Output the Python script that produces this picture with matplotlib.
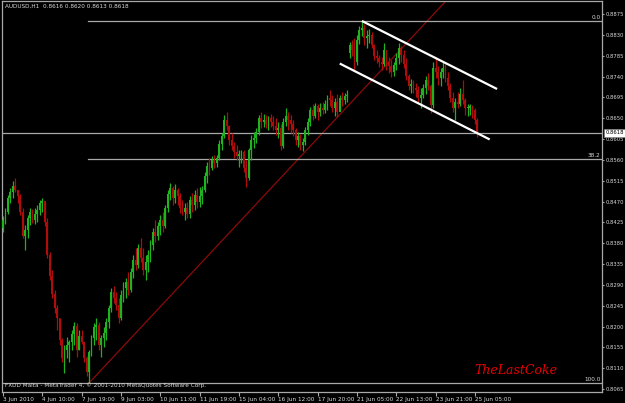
import matplotlib
matplotlib.use("Agg")
import matplotlib.pyplot as plt
import matplotlib.transforms as mtransforms
import numpy as np

# ---- data (prices in pips, 2-hour bars) ----
highs = [8438, 8456, 8484, 8499, 8514, 8520, 8495, 8486, 8456, 8419,
         8441, 8456, 8454, 8456, 8462, 8473, 8477, 8467, 8434, 8361,
         8322, 8279, 8246, 8218, 8175, 8160, 8177, 8171, 8192, 8210,
         8207, 8192, 8192, 8160, 8136, 8149, 8181, 8207, 8218, 8210,
         8181, 8199, 8218, 8246, 8283, 8287, 8274, 8261, 8279, 8296,
         8305, 8318, 8326, 8354, 8369, 8378, 8391, 8369, 8354, 8365,
         8387, 8412, 8430, 8425, 8441, 8447, 8462, 8495, 8510, 8503,
         8508, 8499, 8488, 8473, 8467, 8469, 8482, 8488, 8495, 8499,
         8501, 8503, 8533, 8555, 8564, 8568, 8570, 8570, 8603, 8618,
         8657, 8663, 8635, 8618, 8598, 8592, 8581, 8581, 8581, 8559,
         8585, 8613, 8620, 8629, 8657, 8663, 8659, 8657, 8654, 8659,
         8654, 8650, 8641, 8637, 8650, 8672, 8663, 8657, 8646, 8629,
         8620, 8616, 8607, 8631, 8650, 8674, 8680, 8682, 8680, 8682,
         8685, 8689, 8700, 8711, 8700, 8693, 8702, 8700, 8706, 8704,
         8711, 8814, 8819, 8823, 8829, 8849, 8860, 8853, 8840, 8842,
         8836, 8810, 8797, 8786, 8782, 8812, 8793, 8782, 8775, 8771,
         8790, 8812, 8806, 8797, 8780, 8745, 8734, 8732, 8726, 8719,
         8715, 8724, 8741, 8747, 8724, 8771, 8780, 8762, 8758, 8771,
         8767, 8749, 8726, 8706, 8693, 8706, 8715, 8732, 8693, 8680,
         8680, 8678, 8672, 8650]
lows = [8404, 8421, 8443, 8467, 8477, 8490, 8467, 8441, 8391, 8365,
        8391, 8419, 8423, 8421, 8425, 8441, 8447, 8417, 8348, 8300,
        8261, 8229, 8192, 8160, 8123, 8099, 8132, 8123, 8149, 8160,
        8134, 8149, 8162, 8123, 8093, 8078, 8136, 8160, 8171, 8149,
        8134, 8156, 8171, 8197, 8231, 8251, 8235, 8207, 8214, 8253,
        8261, 8268, 8274, 8305, 8322, 8326, 8339, 8311, 8300, 8318,
        8339, 8365, 8382, 8387, 8397, 8404, 8412, 8447, 8473, 8462,
        8467, 8462, 8445, 8441, 8430, 8434, 8434, 8447, 8451, 8456,
        8458, 8464, 8490, 8510, 8527, 8538, 8542, 8544, 8559, 8581,
        8607, 8624, 8592, 8581, 8564, 8559, 8544, 8553, 8533, 8501,
        8516, 8559, 8585, 8596, 8613, 8629, 8631, 8629, 8624, 8631,
        8624, 8613, 8607, 8581, 8585, 8633, 8624, 8618, 8611, 8592,
        8587, 8581, 8579, 8592, 8613, 8633, 8646, 8650, 8646, 8654,
        8659, 8661, 8667, 8676, 8663, 8654, 8652, 8667, 8676, 8680,
        8685, 8780, 8784, 8754, 8765, 8810, 8827, 8808, 8801, 8812,
        8801, 8775, 8769, 8760, 8754, 8762, 8754, 8747, 8739, 8741,
        8754, 8767, 8771, 8758, 8732, 8711, 8704, 8704, 8695, 8685,
        8672, 8693, 8702, 8711, 8661, 8672, 8736, 8721, 8719, 8736,
        8728, 8711, 8685, 8663, 8646, 8672, 8676, 8680, 8657, 8654,
        8657, 8650, 8637, 8609]
closes = [8430, 8447, 8477, 8490, 8503, 8495, 8482, 8447, 8395, 8408,
          8434, 8447, 8430, 8443, 8451, 8467, 8471, 8425, 8354, 8309,
          8270, 8240, 8218, 8171, 8132, 8149, 8160, 8166, 8184, 8201,
          8149, 8179, 8166, 8132, 8101, 8145, 8175, 8199, 8203, 8160,
          8175, 8186, 8210, 8240, 8274, 8261, 8246, 8218, 8268, 8283,
          8296, 8279, 8318, 8343, 8333, 8369, 8348, 8322, 8339, 8354,
          8376, 8404, 8395, 8417, 8430, 8417, 8456, 8486, 8499, 8477,
          8495, 8482, 8456, 8447, 8456, 8443, 8473, 8462, 8484, 8469,
          8482, 8495, 8525, 8546, 8542, 8559, 8553, 8564, 8594, 8611,
          8646, 8633, 8603, 8590, 8577, 8568, 8572, 8577, 8542, 8520,
          8581, 8603, 8607, 8620, 8650, 8641, 8646, 8637, 8650, 8641,
          8633, 8624, 8629, 8590, 8641, 8654, 8646, 8637, 8624, 8603,
          8611, 8592, 8598, 8624, 8641, 8667, 8654, 8676, 8663, 8672,
          8667, 8680, 8693, 8689, 8672, 8685, 8663, 8693, 8689, 8698,
          8700, 8808, 8797, 8771, 8819, 8840, 8845, 8823, 8827, 8829,
          8808, 8784, 8780, 8771, 8767, 8797, 8771, 8762, 8749, 8765,
          8780, 8801, 8786, 8767, 8741, 8719, 8724, 8715, 8711, 8693,
          8700, 8715, 8732, 8719, 8678, 8758, 8749, 8736, 8749, 8758,
          8736, 8719, 8693, 8672, 8685, 8680, 8702, 8689, 8672, 8672,
          8676, 8667, 8646, 8618]
gap_opens = {0: 8412, 141: 8790}          # opens that differ from previous close

tick_bars = [0, 16, 32, 48, 64, 80, 96, 112, 128, 144, 160, 176, 192]
tick_labels = ["3 Jun 2010", "4 Jun 10:00", "7 Jun 19:00", "9 Jun 03:00",
               "10 Jun 11:00", "11 Jun 19:00", "15 Jun 04:00", "16 Jun 12:00",
               "17 Jun 20:00", "21 Jun 05:00", "22 Jun 13:00", "23 Jun 21:00",
               "25 Jun 05:00"]
price_ticks = [0.8065 + 0.0045 * k for k in range(19)]
fib_ratios = [0.0, 38.2, 100.0]
channel_upper = [(146, 0.8860), (201, 0.8713)]   # drawn channel (bar, price)
channel_lower = [(137, 0.8768), (198, 0.8604)]
header = "AUDUSD,H1  0.8616 0.8620 0.8613 0.8618"
footer = "FXDD Malta - MetaTrader 4, \u00a9 2001-2010 MetaQuotes Software Corp."
signature = "TheLastCoke"

# ---- derived ----
H = np.array(highs) / 10000.0
L = np.array(lows) / 10000.0
C = np.array(closes) / 10000.0
n = len(C)
O = np.array([gap_opens[i] / 10000.0 if i in gap_opens else C[i - 1] for i in range(n)])
x = np.arange(n)
up = C >= O

BG = "#000000"
FG = "#d8d8d8"
GRID = "#a8a8a8"
BULL = "#1fb41f"
BEAR = "#b00c0c"
FONT = ["Liberation Sans Narrow", "DejaVu Sans"]
FS = 4.6
FSY = 4.2
STRETCH = "condensed"

W, Hh = 625, 403
fig = plt.figure(figsize=(W / 100, Hh / 100), dpi=100, facecolor=BG)
ax = fig.add_axes([2 / W, 11 / Hh, 600 / W, 391 / Hh], facecolor=BG)

px_per_bar = 2.458
x_left = -1.0 / px_per_bar
x_right = x_left + 600 / px_per_bar
ppp = 0.000216  # price per pixel
y_top = 0.8875 + 13 * ppp
y_bot = 0.8875 - 378 * ppp
ax.set_xlim(x_left, x_right)
ax.set_ylim(y_bot, y_top)

# candles
cols = np.where(up, BULL, BEAR)
ax.vlines(x, L, H, colors=cols, linewidth=0.9, zorder=3)
body_lo = np.minimum(O, C)
body_h = np.maximum(np.abs(C - O), 0.00012)
ax.bar(x, body_h, bottom=body_lo, width=0.75, color=cols, linewidth=0, zorder=3)

# red trend line through two swing lows
i1, i2 = 35, 136
slope = (L[i2] - L[i1]) / (i2 - i1)
xe = x_right
ax.plot([i1, xe], [L[i1], L[i1] + slope * (xe - i1)], color="#8c0a0a", lw=0.9, zorder=2)

# fibonacci levels
hi, lo = H.max(), L.min()
ilo = int(np.argmin(L))
for r in fib_ratios:
    lvl = hi - r / 100.0 * (hi - lo)
    start = x_left if r == 100.0 else ilo - 0.6
    ax.plot([start, x_right], [lvl, lvl], color=GRID, lw=0.9, zorder=2)
    ax.text(x_right - 0.6, lvl + 1.2 * ppp, "%.1f" % r, color=FG, fontsize=FS,
            family=FONT, fontstretch=STRETCH, ha="right", va="bottom", zorder=4)

# current price line
ax.axhline(C[-1], color=GRID, lw=0.9, zorder=2)

# channel lines
for ch in (channel_upper, channel_lower):
    ax.plot([ch[0][0], ch[1][0]], [ch[0][1], ch[1][1]], color="white", lw=1.6,
            solid_capstyle="butt", zorder=4)

# axes styling
for s in ["left", "right", "bottom", "top"]:
    ax.spines[s].set_color(GRID)
    ax.spines[s].set_linewidth(0.9)
ax.yaxis.tick_right()
ax.set_yticks(price_ticks)
ax.set_yticklabels(["%.4f" % v for v in price_ticks])
ax.set_xticks(tick_bars)
ax.set_xticklabels(tick_labels, ha="left")
ax.tick_params(axis="y", colors=GRID, labelcolor=FG, length=1.5, width=0.8,
               pad=1.0, labelsize=FSY, direction="out")
ax.tick_params(axis="x", colors=GRID, labelcolor=FG, length=3, width=0.8,
               pad=0.5, labelsize=FS, direction="out")
for t in ax.get_xticklabels() + ax.get_yticklabels():
    t.set_family(FONT)
    t.set_fontstretch(STRETCH)

# current price box on axis
trans = mtransforms.blended_transform_factory(ax.transAxes, ax.transData)
ax.text(1.0 + 3.5 / 600, C[-1], "%.4f" % C[-1], transform=trans, fontsize=FSY,
        family=FONT, fontstretch=STRETCH, color="black", ha="left", va="center",
        zorder=6, bbox=dict(boxstyle="square,pad=0.3", fc="white", ec="#808080", lw=0.5),
        clip_on=False)

fig.text(5 / W, 1 - 6 / Hh, header, color=FG, fontsize=FS, family=FONT,
         fontstretch=STRETCH, ha="left", va="center")
ax.text(3 / 600, (392 - 385) / 391, footer, transform=ax.transAxes, color=FG,
        fontsize=FS, family=FONT, fontstretch=STRETCH, ha="left", va="center", zorder=5)
ax.text(514 / 600, (392 - 370) / 391, signature, transform=ax.transAxes,
        color="#e80000", fontsize=9, family=["DejaVu Serif"], style="italic",
        ha="center", va="center", zorder=5)

fig.savefig("out.png", dpi=100, facecolor=BG)
